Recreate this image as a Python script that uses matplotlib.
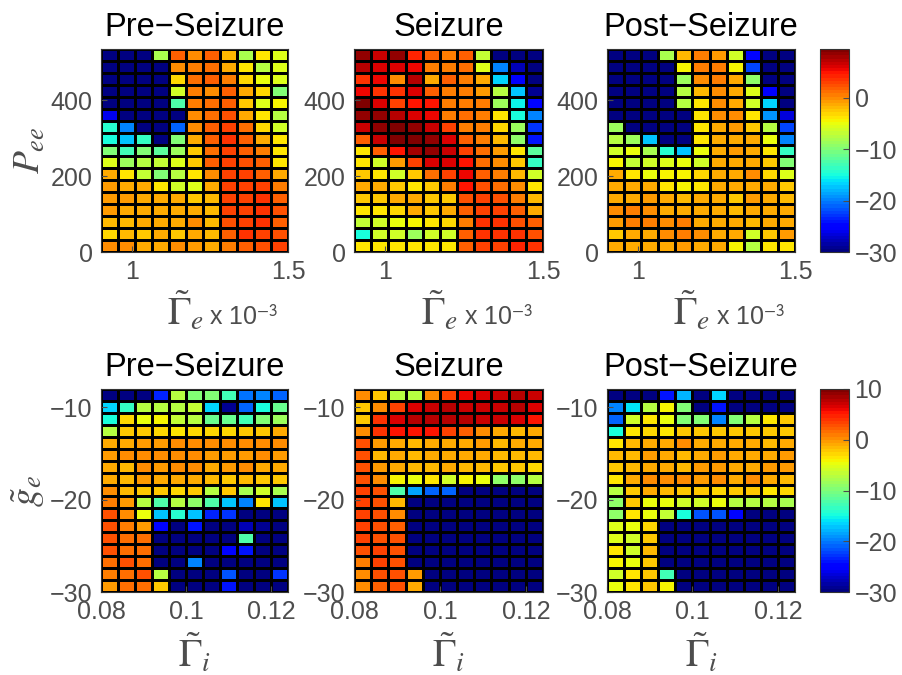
import numpy as np
import matplotlib
matplotlib.use("Agg")
import matplotlib.pyplot as plt

plt.rcParams["font.family"] = ["Liberation Sans", "DejaVu Sans"]
plt.rcParams["mathtext.fontset"] = "stix"

# ---- grid values (rows listed from top to bottom) ----
titles = ["Pre\u2212Seizure", "Seizure", "Post\u2212Seizure"]

pee_pre = [
    [-30, -30, -30, -8, 1.5, 0, 1.5, -2, -8, -4, -5.5],
    [-30, -30, -30, -30, 0, 0.5, 1, -1, -4, -7.5, -5.5],
    [-30, -30, -30, -30, -3, 1, 1.5, 0.5, -3, -5, -5.5],
    [-30, -30, -30, -30, -6, 0.5, 0, 1.5, -1.5, -3, -10],
    [-30, -30, -30, -30, -12.5, 0.5, 1, 1.5, -2.5, -5.5, -4.5],
    [-26, -30, -30, -30, -30, 0, 1, 2.5, -1, -4, -7.5],
    [-14, -20, -30, -30, -21, 0, 1.5, 3, 1, -3, -6],
    [-15, -17.5, -13.5, -30, -10, -1, 1.5, 3.5, 1.5, -1, -4],
    [-10, -13, -10, -12, -9, -2.5, 1, 3, 2, 0.5, -3.5],
    [-5.5, -8.5, -7.5, -7, -5.5, -2.5, 1.5, 3, 2.5, 1.5, -3.5],
    [-1.5, -3.5, -7, -10, -7.5, -3.5, 0, 3, 3, 2, -1],
    [-0.5, -1, -1.5, -4, -6, -5.5, -1, 3, 3, 2.8, 0.5],
    [-0.8, -0.8, -1, -1.5, -1.5, -2.5, -2, 3, 3, 3.5, 2],
    [-0.8, -1, -1, -1.5, -1.5, -1, -2, 3, 3, 3.5, 2.5],
    [-2, -2, -1, -1, -1, 0, -2, 2.5, 3, 3.5, 2],
    [-3, -2, -2.5, -1.5, -2.5, -1.5, -2, 2, 3.5, 3, 2.5],
    [0, 0, -1, -1, 0, -0.5, -1.5, 0.5, 1.5, 2.5, 3],
]

pee_seiz = [
    [8.5, 7, 8.3, 4, 1.8, 0.5, 1.5, -7, -30, -30, -30],
    [7.5, 6, 6.3, 5.5, 0.3, 0.5, 1.3, -5.5, -20, -28, -30],
    [3.8, 5.5, 0, 7.5, -1, 1.5, 0.8, -1, -16.5, -25.5, -30],
    [5.5, 3.8, 3.8, 6.3, 1.5, 0.8, 0.3, -0.5, -7.5, -17.5, -29],
    [9, 6, 2.8, 4.6, 4.6, 0.5, 0.3, 0.3, -8.5, -15.5, -25],
    [8.8, 8.5, 7.5, 6.3, 5.5, 0.5, 1, 0.6, -3.5, -15, -20],
    [7, 8.5, 9, 8.5, 7, 3.2, 0.8, 0.3, -3, -8.5, -23],
    [1.8, 7, 9, 9, 8.5, 6, 1.5, 0.5, -2, -9.3, -24],
    [-4, 1.5, 5, 8, 8.5, 7, 3, 1, -0.5, -3.5, -11.5],
    [-4, -6, -0.5, 3.2, 6, 6.3, 4.6, 1.3, 0, -2.5, -13.5],
    [-2.5, -3.5, -6.5, -2.5, 1, 3.2, 5.3, 1.8, 0.3, -2, -6.5],
    [-1.5, -1.5, -2.5, -3.5, -2.7, 0.5, 4.6, 2.5, 1.3, 0, -4],
    [-2.5, -2.5, -1.5, -1.5, -2.5, -2.5, 2.5, 3, 2.5, 0.8, -2.2],
    [-4, -3.5, -3, -1.5, -2.5, -1.5, 2, 3, 3, 1.5, -1],
    [-7, -6.5, -5.3, -4.5, -3.8, -3, 0.5, 3.5, 3.5, 2.7, 1.5],
    [-15, -6.5, -6.2, -9, -6.2, -6.5, 1.5, 3.5, 3.5, 3.5, 2.5],
    [-3.5, -4, -4, -3.5, -3.5, -4, 1.5, 3.3, 3.3, 4, 3.5],
]

pee_post = [
    [-30, -30, -30, -8, -2, 0.3, -0.8, -6.2, -25, -30, -30],
    [-30, -30, -30, -30, -4.5, 0.5, 0.3, -4.5, -22, -30, -30],
    [-30, -30, -30, -30, -9, 0, 0.5, -1.2, -9.3, -30, -30],
    [-30, -30, -30, -30, -7.5, -2, 0, -1, -5.5, -25.5, -30],
    [-30, -30, -30, -30, -7.5, -3.5, 0, -1.5, -6.2, -16.5, -30],
    [-30, -30, -30, -30, -30, -4, 0, 0, -4, -19, -26.5],
    [-9, -30, -30, -30, -30, -4, -1, -0.5, -2.5, -7.5, -22],
    [-7.5, -9, -17.5, -30, -30, -4, -1, -1, -1.5, -5, -20],
    [-6.3, -5.3, -8, -14.3, -17.5, -5, -1.5, -0.5, -1, -3.5, -13.5],
    [-4.5, -7, -6.2, -5.7, -5.3, -6.2, -1, -1, -1, -2.5, -9.8],
    [-1.5, -3.5, -5.3, -4.5, -4.5, -3, -1.5, -1, 0, -3, -5.5],
    [-1, -1.5, -1.5, -3.5, -4.5, -3.5, -1, -1, -1.3, -1, -2.5],
    [-1, -1, -0.8, -1.5, -2, -1.5, -1.5, -2.5, -0.8, -1, -2],
    [0, 0.5, 0, -1.5, -1.5, -1, -1.3, -2, -1, -1, -1.5],
    [-0.8, 0.5, 0.5, 0, 0.3, -1, -1.5, -1.5, -2, -1, -1.3],
    [-2.5, -1.5, -1, 0, 0.8, 0, -1, -1.5, -6.3, -2.5, -0.5],
    [-1.5, -1.5, -1, -1, -0.5, -1, -1.5, -4.5, -7.5, -4, -3.5],
]

ge_pre = [
    [-30, -30, -30, -23.5, -7.5, -9.5, -9.5, -13, -20.5, -19.5, -21],
    [-16.5, -13.5, -7.5, -7.5, -7, -6.5, -16.5, -29, -21, -14.5, -11],
    [-15, -3, -5, -4, -6.5, -7.5, -11, -11, -13, -10, -8.5],
    [-7, -2.5, -2, -3, -3.5, -3, -3, -3, -2.5, -2, -1],
    [-0.8, -0.8, -0.5, -0.5, 0, 0, 0.5, 0.5, 0, 0.5, 0.5],
    [-0.5, 0, 0, 0.5, 0, 0, -0.5, -0.5, -0.5, 0, -0.5],
    [-0.8, -1.5, 0, -0.5, 0, 0, -0.8, -0.5, 0, -0.8, -0.8],
    [-0.8, -1.5, -0.5, -0.8, -1.2, -0.8, -1.5, -2, -1.5, -2, -2],
    [0.5, -1.5, -2.5, -2.5, -3, -2, -7.5, -2.5, -8, -6, -8],
    [0.8, -0.5, -7.5, -12, -7.5, -9, -12, -17, -20, -3.5, -17.5],
    [2.5, 0.3, -5, -17.5, -14, -17.5, -23.5, -23, -30, -30, -30],
    [2.5, 0.8, -0.5, -25, -30, -24, -30, -30, -28, -29, -30],
    [2.5, 1.5, 1.5, -30, -30, -30, -30, -30, -12.5, -30, -30],
    [2.5, 1.8, 1.5, -30, -30, -30, -30, -25, -24, -30, -30],
    [1.8, 2.5, 1.5, -30, -30, -20, -30, -30, -30, -30, -30],
    [0.8, 1.5, 2.5, -7, -30, -30, -30, -21.5, -30, -30, -23],
    [-0.5, 1.3, 1.5, -2, -30, -30, -30, -24, -30, -30, -30],
]

ge_seiz = [
    [0, -2, -7, -7.5, 0.5, 3.5, 6, 6.3, 7, 7.5, 7],
    [-2, 0, 3.5, 6.3, 7.3, 7.5, 7.3, 7.3, 7.3, 7.5, 6.8],
    [-2.5, 4.2, 6.8, 8, 8, 8, 8, 7.3, 7.3, 6.8, 5.5],
    [0.3, 4.2, 5, 5, 5, 3.2, 2, 0.5, -0.8, -1.5, -1],
    [3, -0.5, -1, -1.5, -0.8, -0.8, -0.8, -0.5, -1.5, -1, -1],
    [3, -1.5, -1, -1.5, -1, -0.8, -1, -1, -1.5, -1.5, -1.5],
    [3, -0.5, -1, -1.5, -1.5, -1, -1.5, -1.5, -2, -2, -3],
    [3, 0.3, -4, -5, -3.5, -5.8, -4, -5, -9, -9, -7],
    [3.5, 2.5, -12, -18.5, -21, -21, -30, -30, -30, -30, -30],
    [3.5, 2.5, -1.5, -30, -30, -30, -30, -30, -30, -30, -30],
    [3.5, 2.5, 0.5, -30, -30, -30, -30, -30, -30, -30, -30],
    [3.5, 3, 2, -30, -30, -30, -30, -30, -30, -30, -30],
    [3.5, 3, 2.5, -30, -30, -30, -30, -30, -30, -30, -30],
    [2.5, 3.3, 2.5, -30, -30, -30, -30, -30, -30, -30, -30],
    [1.2, 3.3, 3, -30, -30, -30, -30, -30, -30, -30, -30],
    [0.5, 2.5, 3, -0.5, -30, -30, -30, -30, -30, -30, -30],
    [0.5, 2, 2.5, -0.8, -30, -30, -30, -30, -30, -30, -30],
]

ge_post = [
    [-30, -30, -30, -24, -18, -30, -16.5, -30, -30, -30, -30],
    [-19.5, -16, -7.5, -4, -9.5, -30, -24, -30, -30, -30, -30],
    [-21, -6, -3.5, -5, -9.5, -9.5, -19.5, -9.5, -7, -3.5, -2.5],
    [-15, -3.5, -3, -3.5, -2.5, -2, -2.5, -2.5, -2, -2.5, -2],
    [-3.5, -1.5, -1, -1, 0, -1, -1, -1, -1, -1.5, -1],
    [-1.5, -1.5, -0.5, -1, -1.5, -1, -0.5, -1, -1, -1, -0.5],
    [-2, -1.5, -1, -1, -1.5, -0.5, -0.5, -1, -1, -0.5, -0.5],
    [-3.5, -1, 0.3, 0.3, 0.3, -0.5, 0, -1, 0, -1, -1.5],
    [-7.5, -2, -1, -1.5, -2.5, -2, -3, -2.5, -2, -3.5, -3],
    [-9, -2.5, -5, -5, -6, -6, -5, -7.5, -7.5, -7.5, -8],
    [-9, -3.5, -4.5, -6.5, -15, -21.5, -21.5, -24.5, -30, -30, -30],
    [-5.5, -5, -3, -30, -30, -30, -30, -30, -30, -30, -30],
    [-5.5, -6, -2, -30, -30, -30, -30, -30, -30, -30, -30],
    [-3.5, -6, -1.5, -30, -30, -30, -30, -30, -30, -30, -30],
    [-4, -5, -2, -30, -30, -30, -30, -30, -30, -30, -30],
    [-6, -3.5, -2, -13, -30, -30, -30, -30, -30, -30, -30],
    [-5, -3.5, -2.5, -4, -30, -30, -30, -30, -30, -30, -30],
]

# cell edges of the two parameter sweeps
gam_e_edges = np.linspace(0.9, 1.5, 12)      # x 10^-3
pee_edges = np.linspace(0, 535, 18)
gam_i_edges = np.linspace(0.08, 0.124, 12)
ge_edges = np.linspace(-30, -8, 18)

top_clim = (-30, 9.5)
bot_clim = (-30, 10)

# ---- figure ----
W, H = 903, 675
fig = plt.figure(figsize=(W / 100, H / 100), dpi=100)
fig.patch.set_facecolor("white")

gray = "#4d4d4d"
cmap = plt.get_cmap("jet", 64)
col_px = [(101, 288), (354, 543), (607, 795)]
row_px = [(49, 252), (389, 592)]


def px_axes(x0, x1, y0, y1):
    return fig.add_axes([x0 / W, 1 - y1 / H, (x1 - x0) / W, (y1 - y0) / H])


rows = [
    dict(data=[pee_pre, pee_seiz, pee_post], xe=gam_e_edges, ye=pee_edges,
         clim=top_clim, xt=[1, 1.5], xtl=["1", "1.5"], yt=[0, 200, 400],
         xl=r"$\tilde{\Gamma}_e$", xl_pos=(0.45, -0.36), unit=True,
         yl=r"$P_{ee}$", ct=[-30, -20, -10, 0]),
    dict(data=[ge_pre, ge_seiz, ge_post], xe=gam_i_edges, ye=ge_edges,
         clim=bot_clim, xt=[0.08, 0.1, 0.12], xtl=["0.08", "0.1", "0.12"],
         yt=[-30, -20, -10], xl=r"$\tilde{\Gamma}_i$", xl_pos=(0.5, -0.37),
         unit=False, yl=r"$\tilde{g}_e$", ct=[-30, -20, -10, 0, 10]),
]

for r, spec in enumerate(rows):
    y0, y1 = row_px[r]
    for c in range(3):
        ax = px_axes(col_px[c][0], col_px[c][1], y0, y1)
        z = np.flipud(np.array(spec["data"][c], dtype=float))
        mesh = ax.pcolormesh(spec["xe"], spec["ye"], z, cmap=cmap,
                             vmin=spec["clim"][0], vmax=spec["clim"][1],
                             edgecolors="black", linewidth=0.85)
        ax.set_xlim(spec["xe"][0], spec["xe"][-1])
        ax.set_ylim(spec["ye"][0], spec["ye"][-1])
        ax.set_xticks(spec["xt"])
        ax.set_xticklabels(spec["xtl"])
        ax.set_yticks(spec["yt"])
        ax.tick_params(direction="in", length=4, width=0.8, colors=gray,
                       labelsize=18, pad=6)
        for s in ax.spines.values():
            s.set_color("#333333")
            s.set_linewidth(0.8)
        ax.set_title(titles[c], fontsize=23.5, color="black", pad=9)

        # parameter label under each panel
        lx, ly = spec["xl_pos"]
        ax.text(lx, ly, spec["xl"], transform=ax.transAxes, fontsize=28,
                color=gray, ha="center", va="baseline")
        if spec["unit"]:
            ax.text(0.58, ly, "x 10$^{\\mathsf{-3}}$", transform=ax.transAxes,
                    fontsize=18, color=gray, ha="left", va="baseline")
        if c == 0:
            ax.set_ylabel(spec["yl"], fontsize=27, color=gray, labelpad=2)

    cax = px_axes(820, 849, y0, y1)
    cb = fig.colorbar(mesh, cax=cax)
    cb.set_ticks(spec["ct"])
    cb.ax.tick_params(direction="in", length=4, width=0.8, colors=gray,
                      labelsize=18, pad=4)
    cb.outline.set_edgecolor("#333333")
    cb.outline.set_linewidth(0.8)

fig.savefig("out.png", dpi=100, facecolor="white")
